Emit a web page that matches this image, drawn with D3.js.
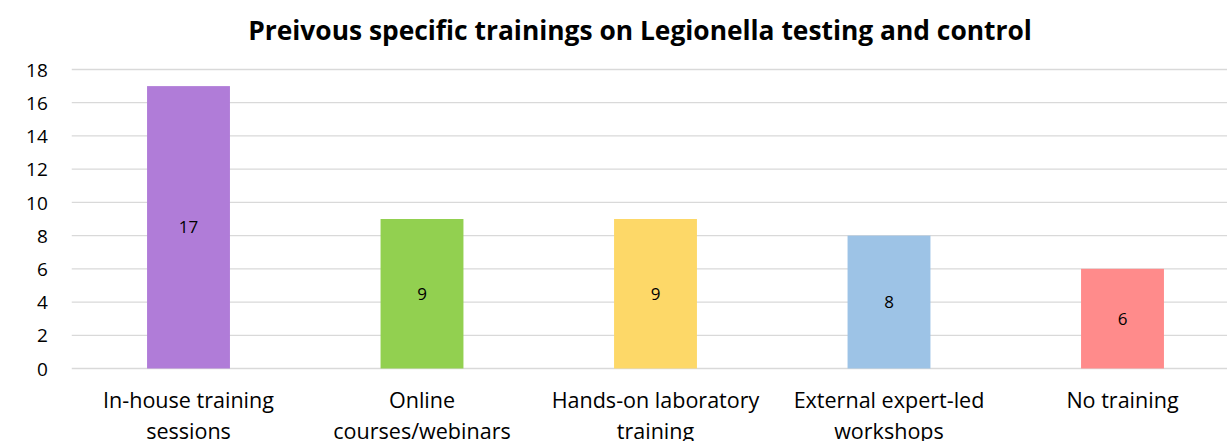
<!DOCTYPE html>
<html>
<head>
<meta charset="utf-8">
<script src="https://cdn.jsdelivr.net/npm/d3@7"></script>
<style>
  body { margin: 0; background: #fff; overflow: hidden; }
  svg { display: block; font-family: "Open Sans", "Noto Sans", sans-serif; }
</style>
</head>
<body>
<div id="chart"></div>
<script>
// data //
const categories = ["In-house training sessions", "Online courses/webinars", "Hands-on laboratory training", "External expert-led workshops", "No training"];
const values = [17, 9, 9, 8, 6];
const colors = ["#b07cd8", "#92d050", "#fdd868", "#9dc3e6", "#ff8b8b"];
const yTicks = [0, 2, 4, 6, 8, 10, 12, 14, 16, 18];
const title = "Preivous specific trainings on Legionella testing and control";

const W = 1227, H = 441;
const margin = {top: 69.5, left: 71.75, bottom: H - 368.5};
const plotW = 233.5 * categories.length;
const plotH = H - margin.top - margin.bottom;

const svg = d3.select("#chart").append("svg")
  .attr("width", W).attr("height", H);

// shrink/grow font so text hits a target width
function fitFont(sel, target) {
  const w = sel.node().getComputedTextLength();
  const fs = parseFloat(sel.attr("font-size"));
  sel.attr("font-size", fs * target / w);
  return fs * target / w;
}

// title
const t = svg.append("text")
  .attr("x", 640).attr("y", 40)
  .attr("text-anchor", "middle")
  .attr("font-weight", "bold")
  .attr("font-size", 24)
  .attr("fill", "#000")
  .text(title);
fitFont(t, 784);

const g = svg.append("g").attr("transform", `translate(${margin.left},${margin.top})`);

const x = d3.scaleBand().domain(categories).range([0, plotW]).paddingInner(0.645).paddingOuter(0.3225);
const y = d3.scaleLinear().domain([0, 18]).range([plotH, 0]);

// gridlines
g.append("g").selectAll("line").data(yTicks).join("line")
  .attr("x1", 0).attr("x2", plotW)
  .attr("y1", d => y(d)).attr("y2", d => y(d))
  .attr("stroke", "#d9d9d9").attr("stroke-width", 1.3);

// y axis labels
const yAxis = g.append("g")
  .call(d3.axisLeft(y).tickValues(yTicks).tickSize(0).tickPadding(24));
yAxis.select(".domain").remove();
yAxis.selectAll("text").attr("font-size", 19).attr("fill", "#000")
  .attr("font-family", "Open Sans, sans-serif").attr("dy", "0.35em");

// bars
g.append("g").selectAll("rect").data(values).join("rect")
  .attr("x", (d, i) => x(categories[i]))
  .attr("width", x.bandwidth())
  .attr("y", d => y(d))
  .attr("height", d => y(0) - y(d))
  .attr("fill", (d, i) => colors[i]);

// value labels in the middle of each bar
g.append("g").selectAll("text").data(values).join("text")
  .attr("x", (d, i) => x(categories[i]) + x.bandwidth() / 2)
  .attr("y", d => (y(d) + y(0)) / 2)
  .attr("dy", "0.35em")
  .attr("text-anchor", "middle")
  .attr("font-size", 17)
  .attr("fill", "#000")
  .text(d => d);

// x labels, wrapped
const labG = g.append("g");
let fsLab = 19;
categories.forEach((c, i) => {
  const cx = x(c) + x.bandwidth() / 2;
  const txt = labG.append("text")
    .attr("x", cx).attr("y", plotH + 39)
    .attr("text-anchor", "middle")
    .attr("font-size", fsLab).attr("fill", "#000");
  if (i === 0) {
    // calibrate size on first line
    const probe = txt.text("In-house training");
    fsLab = fitFont(probe, 171);
    txt.text(null);
  }
  const words = c.split(" ");
  let lines = [], cur = [];
  words.forEach(w => {
    cur.push(w);
    txt.text(cur.join(" "));
    if (txt.node().getComputedTextLength() > 214 && cur.length > 1) {
      cur.pop();
      lines.push(cur.join(" "));
      cur = [w];
    }
  });
  lines.push(cur.join(" "));
  txt.text(null);
  lines.forEach((l, k) => {
    txt.append("tspan").attr("x", cx).attr("dy", k === 0 ? 0 : 31).text(l);
  });
});
</script>
</body>
</html>
